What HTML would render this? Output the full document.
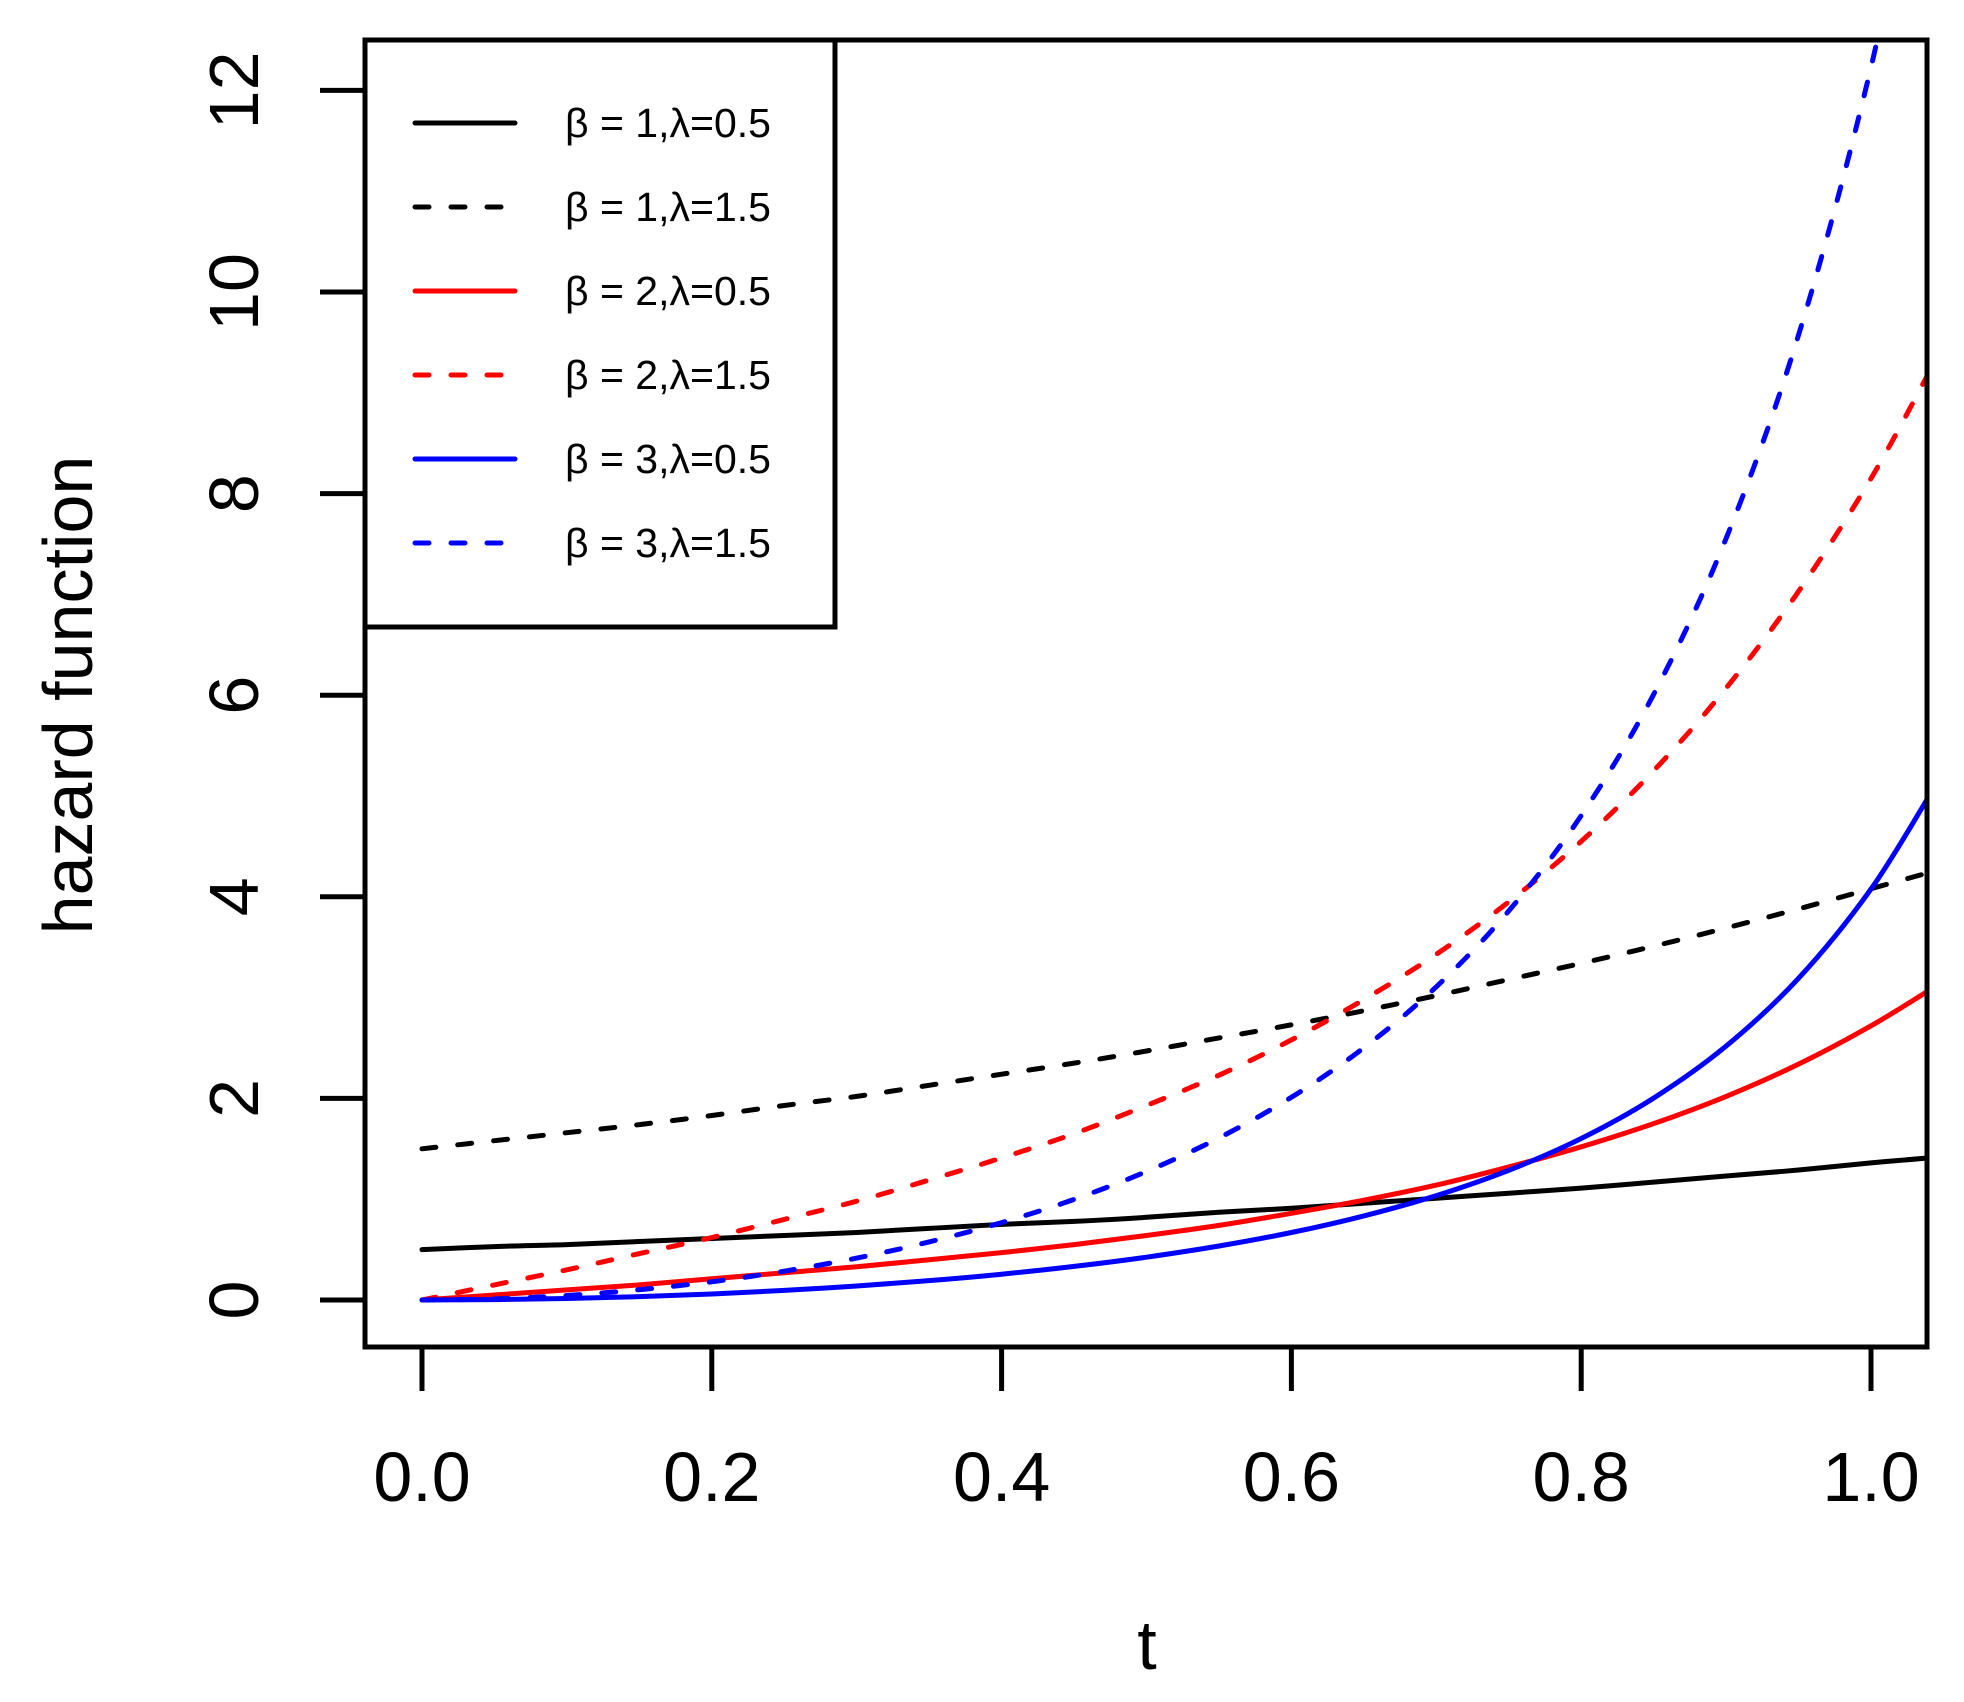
<!DOCTYPE html>
<html><head><meta charset="utf-8"><style>
html,body{margin:0;padding:0;background:#fff;}
svg{display:block;font-family:"Liberation Sans",sans-serif;}
</style></head><body>
<svg id="chart" width="1964" height="1702" viewBox="0 0 1964 1702" xmlns="http://www.w3.org/2000/svg">
<defs><clipPath id="pc"><rect x="365" y="40" width="1562" height="1307"/></clipPath></defs>
<g id="series" clip-path="url(#pc)"></g>
<rect x="365" y="40" width="1562" height="1307" fill="none" stroke="#000" stroke-width="5"/>
<g id="axes"></g>
<text x="1147" y="1669" font-size="70" text-anchor="middle">t</text>
<text transform="translate(92,695) rotate(-90)" font-size="70" text-anchor="middle">hazard function</text>
<g id="legend"></g>
</svg>
<script>
const tValues = [0,0.05,0.1,0.15,0.2,0.25,0.3,0.35,0.4,0.45,0.5,0.55,0.6,0.65,0.7,0.75,0.8,0.85,0.9,0.95,1.0,1.04];
const b1l05 = [0.5,0.53,0.55,0.58,0.61,0.64,0.67,0.71,0.75,0.78,0.82,0.87,0.91,0.96,1.01,1.06,1.11,1.17,1.23,1.29,1.36,1.41];
const b1l15 = [1.5,1.58,1.66,1.74,1.83,1.93,2.02,2.13,2.24,2.35,2.47,2.6,2.73,2.87,3.02,3.18,3.34,3.51,3.69,3.88,4.08,4.24];
const b2l05 = [0,0.05,0.10,0.15,0.21,0.27,0.33,0.40,0.47,0.55,0.64,0.74,0.86,0.99,1.14,1.32,1.52,1.75,2.02,2.34,2.72,3.07];
const b2l15 = [0,0.15,0.30,0.46,0.62,0.80,0.98,1.19,1.41,1.65,1.93,2.23,2.58,2.98,3.43,3.95,4.55,5.25,6.07,7.03,8.15,9.20];
const b3l05 = [0,0.004,0.015,0.034,0.06,0.095,0.139,0.192,0.256,0.333,0.425,0.536,0.670,0.834,1.036,1.287,1.602,2.003,2.519,3.191,4.077,4.997];
const b3l15 = [0,0.011,0.045,0.102,0.181,0.286,0.416,0.576,0.768,0.998,1.275,1.608,2.011,2.502,3.107,3.860,4.806,6.008,7.556,9.572,12.23,14.99];
const xTicks = [0,0.2,0.4,0.6,0.8,1.0];
const xTickLabels = ["0.0","0.2","0.4","0.6","0.8","1.0"];
const yTicks = [0,2,4,6,8,10,12];
const yTickLabels = ["0","2","4","6","8","10","12"];
const legendLabels = ["β = 1,λ=0.5","β = 1,λ=1.5","β = 2,λ=0.5","β = 2,λ=1.5","β = 3,λ=0.5","β = 3,λ=1.5"];

const NS="http://www.w3.org/2000/svg";
const xs = t => 422 + t*1449;
const ys = v => 1300 - v*100.8;
function mk(tag, attrs, parent){const e=document.createElementNS(NS,tag);for(const k in attrs)e.setAttribute(k,attrs[k]);parent.appendChild(e);return e;}
function smoothPath(pts){
  let d="M"+pts[0][0].toFixed(1)+","+pts[0][1].toFixed(1);
  for(let i=0;i<pts.length-1;i++){
    const p0=pts[Math.max(0,i-1)],p1=pts[i],p2=pts[i+1],p3=pts[Math.min(pts.length-1,i+2)];
    const c1=[p1[0]+(p2[0]-p0[0])/6,p1[1]+(p2[1]-p0[1])/6];
    const c2=[p2[0]-(p3[0]-p1[0])/6,p2[1]-(p3[1]-p1[1])/6];
    d+=" C"+c1[0].toFixed(1)+","+c1[1].toFixed(1)+" "+c2[0].toFixed(1)+","+c2[1].toFixed(1)+" "+p2[0].toFixed(1)+","+p2[1].toFixed(1);
  }
  return d;
}

const seriesList=[[b1l05,"#000",false,"series-b1-l05"],[b1l15,"#000",true,"series-b1-l15"],[b2l05,"#ff0000",false,"series-b2-l05"],[b2l15,"#ff0000",true,"series-b2-l15"],[b3l05,"#0000ff",false,"series-b3-l05"],[b3l15,"#0000ff",true,"series-b3-l15"]];
const sg=document.getElementById("series");
seriesList.forEach(s=>{
  const pts=s[0].map((v,i)=>[xs(tValues[i]),ys(v)]);
  const p=mk("path",{d:smoothPath(pts),fill:"none",stroke:s[1],"stroke-width":5,"stroke-linecap":"round","stroke-linejoin":"round"},sg);
  if(s[2])p.setAttribute("stroke-dasharray","14 22");
  
  
});

const ax=document.getElementById("axes");
xTicks.forEach((t,i)=>{
  const l=mk("line",{x1:xs(t),x2:xs(t),y1:1347,y2:1391,stroke:"#000","stroke-width":5},ax);
  
  
  const tx=mk("text",{x:xs(t),y:1501,"font-size":70,"text-anchor":"middle"},ax);
  tx.textContent=xTickLabels[i];
  
  
});
yTicks.forEach((v,i)=>{
  const l=mk("line",{x1:320,x2:365,y1:ys(v),y2:ys(v),stroke:"#000","stroke-width":5},ax);
  
  
  const tx=mk("text",{transform:"translate(258,"+ys(v)+") rotate(-90)","font-size":70,"text-anchor":"middle"},ax);
  tx.textContent=yTickLabels[i];
  
  
});

const lg=document.getElementById("legend");
const box=mk("rect",{x:365,y:40,width:470,height:587,fill:"#fff",stroke:"#000","stroke-width":5},lg);


legendLabels.forEach((lab,i)=>{
  const y=123+i*84;
  const l=mk("line",{x1:415,x2:515,y1:y,y2:y,stroke:seriesList[i][1],"stroke-width":5,"stroke-linecap":"round"},lg);
  if(seriesList[i][2])l.setAttribute("stroke-dasharray","14 22");
  
  
  const tx=mk("text",{x:565,y:y+14,"font-size":41},lg);
  tx.textContent=lab;
  
  
});
</script>
</body></html>
